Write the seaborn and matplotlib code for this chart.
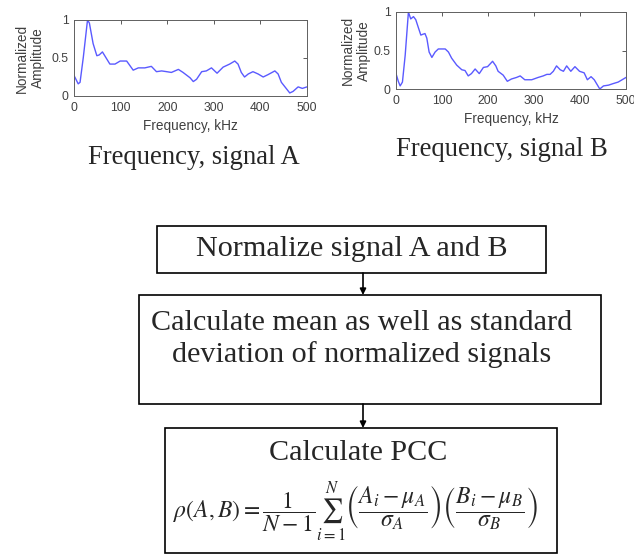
import numpy as np
import pandas as pd
import matplotlib
matplotlib.use("Agg")
import matplotlib.pyplot as plt
import seaborn as sns
from matplotlib.patches import Rectangle

# ---- data ----
freq_a = [0, 9, 13, 20, 29, 33, 41, 49, 54, 61, 66, 77, 88, 99, 113, 120, 127, 138, 152, 159, 166,
          177, 188, 199, 209, 224, 234, 249, 256, 263, 274, 284, 295, 307, 320, 334, 345, 352, 359,
          366, 374, 384, 395, 406, 416, 431, 438, 445, 454, 463, 470, 481, 490, 500]
amp_a = [0.27, 0.16, 0.18, 0.51, 1.0, 0.96, 0.69, 0.53, 0.54, 0.58, 0.53, 0.42, 0.42, 0.46, 0.46, 0.40,
         0.34, 0.37, 0.37, 0.38, 0.39, 0.32, 0.33, 0.32, 0.31, 0.35, 0.31, 0.24, 0.19, 0.22, 0.32, 0.33,
         0.37, 0.30, 0.38, 0.42, 0.46, 0.42, 0.31, 0.25, 0.29, 0.32, 0.29, 0.25, 0.28, 0.33, 0.29, 0.18,
         0.11, 0.04, 0.06, 0.12, 0.10, 0.12]

freq_b = [0, 5, 9, 14, 20, 27, 32, 38, 43, 49, 54, 58, 63, 67, 72, 78, 85, 92, 107, 114, 121, 132, 143,
          150, 157, 164, 172, 181, 190, 199, 210, 217, 222, 233, 242, 251, 262, 270, 280, 295, 309, 320,
          328, 335, 342, 349, 357, 364, 371, 380, 389, 399, 409, 416, 424, 431, 438, 443, 451, 462, 472,
          483, 500]
amp_b = [0.20, 0.10, 0.04, 0.09, 0.44, 1.0, 0.91, 0.94, 0.90, 0.79, 0.70, 0.71, 0.72, 0.66, 0.48, 0.41,
         0.48, 0.52, 0.52, 0.48, 0.40, 0.31, 0.25, 0.24, 0.17, 0.20, 0.26, 0.20, 0.28, 0.29, 0.36, 0.30,
         0.23, 0.18, 0.10, 0.13, 0.15, 0.17, 0.12, 0.12, 0.15, 0.17, 0.19, 0.19, 0.23, 0.30, 0.25, 0.23,
         0.30, 0.23, 0.29, 0.23, 0.21, 0.12, 0.16, 0.12, 0.05, 0.0, 0.04, 0.05, 0.07, 0.09, 0.15]

x_ticks = [0, 100, 200, 300, 400, 500]
y_ticks = [0, 0.5, 1]
y_tick_labels = ["0", "0.5", "1"]
plot_titles = ["Frequency, signal A", "Frequency, signal B"]
steps = ["Normalize signal A and B",
         "Calculate mean as well as standard\ndeviation of normalized signals",
         "Calculate PCC"]
formula = (r"$\rho(A,B)=\dfrac{1}{N-1}\sum_{i=1}^{N}\left(\dfrac{A_i-\mu_A}{\sigma_A}\right)"
           r"\left(\dfrac{B_i-\mu_B}{\sigma_B}\right)$")

sns.set_style("white")
plt.rcParams["font.family"] = ["Liberation Sans", "DejaVu Sans"]
plt.rcParams["mathtext.fontset"] = "stix"

W, H = 634, 555
fig = plt.figure(figsize=(W / 100, H / 100), dpi=100)


def px_axes(x0, y0, x1, y1):
    return fig.add_axes([x0 / W, 1 - y1 / H, (x1 - x0) / W, (y1 - y0) / H])


line_color = "#5a5aff"
grey = "#404040"
for (x0, y0, x1, y1), fx, ay, ylx in [((74, 20, 307, 96), freq_a, amp_a, -0.189),
                                       ((396, 12, 626, 89), freq_b, amp_b, -0.174)]:
    ax = px_axes(x0, y0, x1, y1)
    df = pd.DataFrame({"f": fx, "a": ay})
    sns.lineplot(data=df, x="f", y="a", ax=ax, color=line_color, linewidth=1.0)
    ax.set_xlim(0, 500)
    ax.set_ylim(0, 1)
    ax.set_xticks(x_ticks)
    ax.set_yticks(y_ticks)
    ax.set_yticklabels(y_tick_labels)
    ax.tick_params(direction="in", length=3, width=0.6, labelsize=8.7, colors=grey,
                   top=True, right=True, pad=4)
    for sp in ax.spines.values():
        sp.set_color("#606060")
        sp.set_linewidth(0.7)
    ax.set_xlabel("Frequency, kHz", fontsize=9.8, color=grey, labelpad=4)
    ax.set_ylabel("Normalized\nAmplitude", fontsize=9.8, color=grey, linespacing=1.15)
    ax.yaxis.label.set_va("center")
    ax.yaxis.set_label_coords(ylx, 0.5)

# overlay for text & flowchart
ov = fig.add_axes([0, 0, 1, 1])
ov.set_xlim(0, W)
ov.set_ylim(H, 0)
ov.axis("off")
ov.patch.set_alpha(0)

serif = ["Liberation Serif", "DejaVu Serif"]
ov.text(194, 158, plot_titles[0], ha="center", va="center", fontsize=19.2, family=serif)
ov.text(502, 150, plot_titles[1], ha="center", va="center", fontsize=19.2, family=serif)

boxes = [(157, 226, 546, 273), (139, 295, 601, 404), (165, 428, 557, 553)]
for (x0, y0, x1, y1) in boxes:
    ov.add_patch(Rectangle((x0, y0), x1 - x0, y1 - y0, fill=False, edgecolor="black", linewidth=1.2))

for (ya, yb) in [(273, 295), (404, 428)]:
    ov.annotate("", xy=(363, yb), xytext=(363, ya),
                arrowprops=dict(arrowstyle="-|>", color="black", lw=1.2, mutation_scale=9,
                                shrinkA=0, shrinkB=0))

ov.text(352, 249, steps[0], ha="center", va="center", fontsize=21.7, family=serif)
ov.text(362, 339, steps[1], ha="center", va="center", fontsize=21.7, family=serif, linespacing=1.2)
ov.text(358, 453, steps[2], ha="center", va="center", fontsize=21.7, family=serif)
ov.text(355, 512, formula, ha="center", va="center", fontsize=17)

fig.savefig("out.png", dpi=100)
